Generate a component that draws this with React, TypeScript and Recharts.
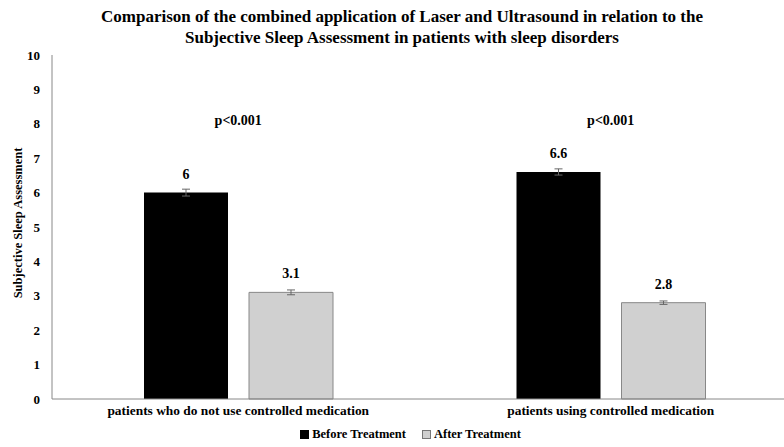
import { Bar, BarChart, ErrorBar, LabelList, Legend, ReferenceDot, XAxis, YAxis } from "recharts";

const categories = ["patients who do not use controlled medication", "patients using controlled medication"];
const beforeValues = [6, 6.6];
const afterValues = [3.1, 2.8];
const beforeErrors = [0.1, 0.09];
const afterErrors = [0.07, 0.05];
const pLabels = ["p<0.001", "p<0.001"];
const yTicks = [0, 1, 2, 3, 4, 5, 6, 7, 8, 9, 10];

const data = categories.map((name, i) => ({
  name,
  before: beforeValues[i],
  after: afterValues[i],
  beforeErr: beforeErrors[i],
  afterErr: afterErrors[i],
}));

const font = "'Liberation Serif', 'Times New Roman', serif";

function YLabel({ viewBox }: any) {
  const x = viewBox.x + 6;
  const y = viewBox.y + viewBox.height / 2 - 4;
  return (
    <text x={x} y={y} transform={`rotate(-90, ${x}, ${y})`} textAnchor="middle" dominantBaseline="central"
      fontFamily={font} fontWeight="bold" fontSize={12.5} fill="#000">
      Subjective Sleep Assessment
    </text>
  );
}

function LegendContent() {
  const items = [
    { label: "Before Treatment", fill: "#000", stroke: "#000" },
    { label: "After Treatment", fill: "#d0d0d0", stroke: "#777" },
  ];
  return (
    <div style={{ display: "flex", justifyContent: "center", gap: 16, fontFamily: font, fontWeight: "bold", fontSize: 12.5, paddingLeft: 12 }}>
      {items.map((it) => (
        <span key={it.label} style={{ display: "flex", alignItems: "center", gap: 3 }}>
          <span style={{ width: 7, height: 7, background: it.fill, border: `1px solid ${it.stroke}`, display: "inline-block" }} />
          {it.label}
        </span>
      ))}
    </div>
  );
}

export default function App() {
  return (
    <div style={{ position: "absolute", left: 0, top: 0, width: 784, height: 447, overflow: "hidden", background: "#fff" }}>
      <div style={{ position: "absolute", left: 0, top: 6, width: 804, textAlign: "center", fontFamily: font, fontWeight: "bold", fontSize: 17, lineHeight: "21px", color: "#000", zIndex: 1 }}>
        Comparison of the combined application of Laser and Ultrasound in relation to the
        <br />
        Subjective Sleep Assessment in patients with sleep disorders
      </div>
      <BarChart width={800} height={447} data={data} margin={{ top: 55, right: 3, left: 12, bottom: 0 }}
        barGap={21} barSize={84}>
        <XAxis dataKey="name" axisLine={{ stroke: "#888" }} tickLine={false} tickSize={4} height={28}
          tick={{ fontFamily: font, fontWeight: "bold", fontSize: 13.4, fill: "#000" }} interval={0} />
        <YAxis domain={[0, 10]} ticks={yTicks} width={40} axisLine={{ stroke: "#888" }} tickLine={false} tickSize={10}
          tick={{ fontFamily: font, fontWeight: "bold", fontSize: 13, fill: "#000" }} label={<YLabel />} />
        <Legend verticalAlign="bottom" height={20} content={<LegendContent />} />
        <Bar dataKey="before" fill="#000" isAnimationActive={false}>
          <ErrorBar dataKey="beforeErr" width={4} stroke="#666" strokeWidth={1} direction="y" />
          <LabelList dataKey="before" position="top" offset={14}
            style={{ fontFamily: font, fontWeight: "bold", fontSize: 14, fill: "#000" }} />
        </Bar>
        <Bar dataKey="after" fill="#d0d0d0" stroke="#888" strokeWidth={1} isAnimationActive={false}>
          <ErrorBar dataKey="afterErr" width={4} stroke="#666" strokeWidth={1} direction="y" />
          <LabelList dataKey="after" position="top" offset={14}
            style={{ fontFamily: font, fontWeight: "bold", fontSize: 14, fill: "#000" }} />
        </Bar>
        {categories.map((c, i) => (
          <ReferenceDot key={c} x={c} y={8.1} r={0} fill="none" stroke="none"
            label={{ value: pLabels[i], position: "center", fontFamily: font, fontWeight: "bold", fontSize: 14, fill: "#000" }} />
        ))}
      </BarChart>
    </div>
  );
}
